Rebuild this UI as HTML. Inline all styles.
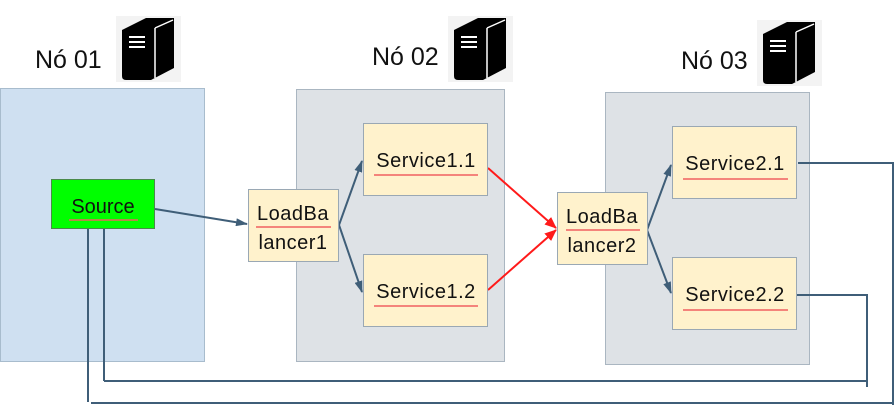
<!DOCTYPE html>
<html><head><meta charset="utf-8"><style>
body{margin:0;background:#fff;width:896px;height:406px;overflow:hidden}
</style></head><body>
<svg width="896" height="406" xmlns="http://www.w3.org/2000/svg" font-family="Liberation Sans, sans-serif">
<defs>
<marker id="a" viewBox="0 0 12 8" refX="11" refY="4" markerWidth="12" markerHeight="8" markerUnits="userSpaceOnUse" orient="auto"><path d="M0,0L12,4L0,8z" fill="#3f5e78"/></marker>
<marker id="r" viewBox="0 0 12 10" refX="11" refY="5" markerWidth="12" markerHeight="10" markerUnits="userSpaceOnUse" orient="auto"><path d="M0,0L12,5L0,10z" fill="#ff1a1a"/></marker>
<g id="srv"><rect x="0" y="0" width="65" height="66" fill="#f3f3f3"/><path d="M6,14L30,2L58,2L58,52L35,64L10,64Q6,64 6,60Z" fill="#000"/><path d="M39,12L57,4M39,12L39,62" stroke="#fff" stroke-width="1.5" fill="none"/><rect x="13" y="20" width="16" height="2" fill="#fff"/><rect x="13" y="25" width="16" height="2" fill="#fff"/><rect x="13" y="30" width="16" height="2" fill="#fff"/></g>
</defs>
<rect x="0.5" y="88.5" width="204" height="273" fill="#cfe0f1" stroke="#a8bccd"/>
<rect x="296.5" y="89.5" width="208" height="272" fill="#dee2e6" stroke="#aab6c1"/>
<rect x="605.5" y="92.5" width="204" height="272" fill="#dee2e6" stroke="#aab6c1"/>
<text x="35" y="68" font-size="25" fill="#111">Nó 01</text>
<text x="372" y="65" font-size="25" fill="#111">Nó 02</text>
<text x="681" y="69" font-size="25" fill="#111">Nó 03</text>
<use href="#srv" x="116" y="16"/>
<use href="#srv" x="448" y="16"/>
<use href="#srv" x="757" y="20"/>
<g fill="none" stroke="#3f5e78" stroke-width="2">
<path d="M798,163H893V405M893,403H91M88,229V402"/>
<path d="M797,295H867V387"/>
<path d="M867,381H104M104,229V381"/>
<line x1="155" y1="209" x2="247" y2="224" marker-end="url(#a)"/>
<line x1="339" y1="225" x2="362" y2="161" marker-end="url(#a)"/>
<line x1="339" y1="225" x2="362" y2="292" marker-end="url(#a)"/>
<line x1="647" y1="230" x2="671" y2="165" marker-end="url(#a)"/>
<line x1="647" y1="230" x2="671" y2="293" marker-end="url(#a)"/>
</g>
<g stroke="#ff1a1a" stroke-width="2">
<line x1="488" y1="168" x2="556" y2="228" marker-end="url(#r)"/>
<line x1="488" y1="290" x2="556" y2="230" marker-end="url(#r)"/>
</g>
<rect x="51.5" y="179.5" width="103" height="49" fill="#00ff00" stroke="#4a8a4a"/>
<text x="103" y="213" font-size="20" text-anchor="middle" fill="#111">Source</text>
<line x1="69" y1="220" x2="138" y2="220" stroke="#f06060" stroke-width="1.5"/>
<g fill="#fff2cc" stroke="#9aa8b4">
<rect x="248.5" y="189.5" width="90" height="72"/>
<rect x="363.5" y="123.5" width="124" height="72"/>
<rect x="363.5" y="254.5" width="124" height="72"/>
<rect x="557.5" y="192.5" width="90" height="72"/>
<rect x="672.5" y="126.5" width="124" height="72"/>
<rect x="672.5" y="257.5" width="124" height="72"/>
</g>
<g font-size="20" fill="#111" text-anchor="middle" letter-spacing="0.5">
<text x="293" y="220">LoadBa</text><text x="293" y="249">lancer1</text>
<text x="426" y="167">Service1.1</text><text x="426" y="298">Service1.2</text>
<text x="602" y="223">LoadBa</text><text x="602" y="252">lancer2</text>
<text x="735" y="170">Service2.1</text><text x="735" y="301">Service2.2</text>
</g>
<g stroke="#f06060" stroke-width="1.5">
<line x1="256" y1="227" x2="331" y2="227"/>
<line x1="374" y1="175" x2="478" y2="175"/><line x1="374" y1="306" x2="478" y2="306"/>
<line x1="566" y1="230" x2="640" y2="230"/>
<line x1="683" y1="179" x2="788" y2="179"/><line x1="683" y1="310" x2="788" y2="310"/>
</g>
</svg>
</body></html>
